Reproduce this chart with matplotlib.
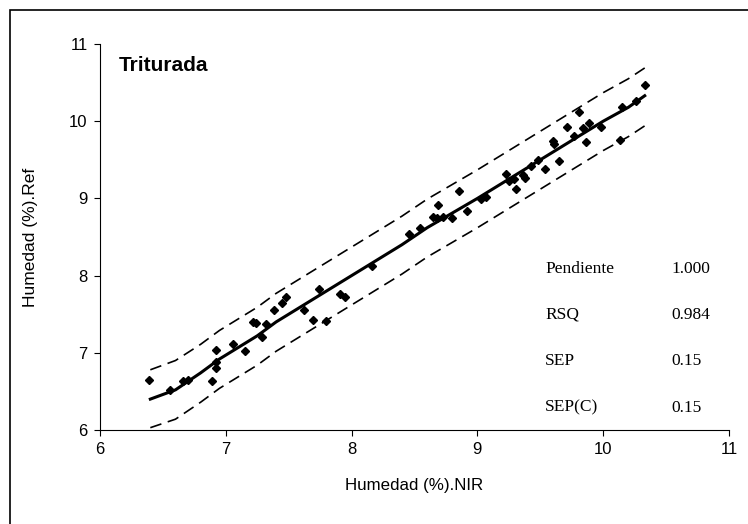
import matplotlib
matplotlib.use("Agg")
import matplotlib.pyplot as plt
from matplotlib.patches import Rectangle

# measured points (NIR prediction vs reference)
nir = [6.39, 6.56, 6.66, 6.70, 6.89, 6.92, 6.92, 6.92, 7.06, 7.15,
       7.22, 7.24, 7.29, 7.32, 7.38, 7.45, 7.48, 7.62, 7.69, 7.74,
       7.80, 7.91, 7.95, 8.16, 8.46, 8.54, 8.65, 8.68, 8.69, 8.73,
       8.80, 8.85, 8.92, 9.03, 9.07, 9.23, 9.25, 9.29, 9.31, 9.36,
       9.38, 9.43, 9.48, 9.54, 9.60, 9.61, 9.65, 9.71, 9.77, 9.81,
       9.84, 9.86, 9.89, 9.98, 10.13, 10.15, 10.26, 10.33]
ref = [6.65, 6.52, 6.64, 6.65, 6.64, 6.80, 6.88, 7.04, 7.11, 7.02,
       7.40, 7.39, 7.21, 7.37, 7.56, 7.64, 7.72, 7.55, 7.43, 7.82,
       7.41, 7.76, 7.72, 8.12, 8.54, 8.62, 8.76, 8.74, 8.92, 8.76,
       8.75, 9.09, 8.84, 8.99, 9.02, 9.32, 9.23, 9.25, 9.12, 9.30,
       9.27, 9.42, 9.50, 9.38, 9.75, 9.71, 9.48, 9.92, 9.81, 10.12,
       9.91, 9.73, 9.98, 9.93, 9.76, 10.18, 10.26, 10.47]

# smoothed calibration line and prediction limits
fit_x = [6.40, 6.60, 6.80, 6.95, 7.10, 7.25, 7.40, 7.60, 7.80, 8.00, 8.20,
         8.40, 8.60, 8.80, 9.00, 9.20, 9.40, 9.60, 9.80, 10.00, 10.20, 10.33]
fit_y = [6.40, 6.52, 6.74, 6.92, 7.07, 7.22, 7.40, 7.60, 7.80, 8.00, 8.20,
         8.40, 8.62, 8.81, 9.00, 9.20, 9.40, 9.60, 9.80, 10.00, 10.18, 10.33]
upper_y = [6.78, 6.90, 7.11, 7.29, 7.44, 7.59, 7.77, 7.97, 8.17, 8.37, 8.57,
           8.77, 8.99, 9.18, 9.37, 9.57, 9.77, 9.97, 10.17, 10.37, 10.55, 10.69]
lower_y = [6.03, 6.14, 6.36, 6.54, 6.69, 6.84, 7.02, 7.22, 7.42, 7.62, 7.82,
           8.02, 8.24, 8.43, 8.62, 8.82, 9.02, 9.22, 9.42, 9.62, 9.80, 9.94]

stat_names = ["Pendiente", "RSQ", "SEP", "SEP(C)"]
stat_values = ["1.000", "0.984", "0.15", "0.15"]

plt.rcParams["font.family"] = ["Liberation Sans", "DejaVu Sans"]

fig = plt.figure(figsize=(7.48, 5.24), dpi=100)
# outer chart frame (only left and top edges fall inside the image)
fig.patches.append(Rectangle((10 / 748, -0.5), 2, 0.5 + 1 - 10 / 524,
                             transform=fig.transFigure, fill=False,
                             edgecolor="black", linewidth=1.2))
ax = fig.add_axes([0.1337, 0.1794, 0.8409, 0.7366])

ax.plot(fit_x, upper_y, color="black", linewidth=1.2, dashes=(7, 4))
ax.plot(fit_x, lower_y, color="black", linewidth=1.2, dashes=(7, 4))
ax.plot(fit_x, fit_y, color="black", linewidth=2.2)
ax.plot(nir, ref, linestyle="none", marker="D", markersize=4.4,
        color="black")

ax.set_xlim(6, 11)
ax.set_ylim(6, 11)
ax.set_xticks(range(6, 12))
ax.set_yticks(range(6, 12))
ax.spines["top"].set_visible(False)
ax.spines["right"].set_visible(False)
ax.tick_params(direction="out", length=4, width=0.8, labelsize=12, pad=5)
ax.set_xlabel("Humedad (%).NIR", fontsize=12.2, labelpad=15)
ax.set_ylabel("Humedad (%).Ref", fontsize=12.5, labelpad=22)

ax.text(6.15, 10.72, "Triturada", fontsize=15, fontweight="bold",
        va="center", ha="left")

for i, (name, val) in enumerate(zip(stat_names, stat_values)):
    yy = 8.09 - i * 0.6
    ax.text(9.54, yy, name, family="Liberation Serif", fontsize=12.5,
            va="center", ha="left")
    ax.text(10.545, yy, val, family="Liberation Serif", fontsize=12.5,
            va="center", ha="left")

fig.savefig("out.png", dpi=100)
